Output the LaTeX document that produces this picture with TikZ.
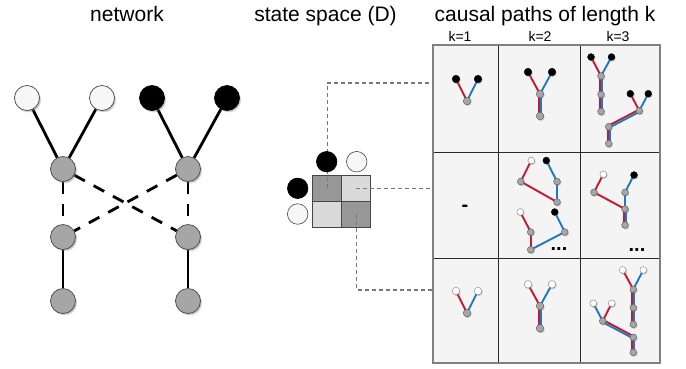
\documentclass[tikz,border=0pt]{standalone}
\usepackage{fontspec}
\setmainfont{Liberation Sans}
\usetikzlibrary{calc,shadows,fadings}
\pgfdeclarelayer{back}
\pgfdeclarelayer{edges}
\pgfsetlayers{back,edges,main}

\definecolor{pathred}{RGB}{200,24,48}
\definecolor{pathblue}{RGB}{32,120,192}
\definecolor{nodegray}{RGB}{166,166,166}
\definecolor{rimgray}{RGB}{70,70,70}
\definecolor{cellbg}{RGB}{244,244,244}
\definecolor{offwhite}{RGB}{247,247,247}
\definecolor{darkcell}{RGB}{152,152,152}
\definecolor{lightcell}{RGB}{218,218,218}
\definecolor{linkgray}{RGB}{120,120,120}

% paired red/blue strands between two nodes
% \dblA: red on the left (vertical) or upper side (going down-left)
% \dblB: red on the upper side (going down-right)
\newcommand{\dblA}[2]{%
  \draw[redline]  ($(#1.center)!1.05pt!-90:(#2.center)$) -- ($(#2.center)!1.05pt!90:(#1.center)$);
  \draw[blueline] ($(#1.center)!1.05pt!90:(#2.center)$) -- ($(#2.center)!1.05pt!-90:(#1.center)$);}
\newcommand{\dblB}[2]{%
  \draw[redline]  ($(#1.center)!1.05pt!90:(#2.center)$) -- ($(#2.center)!1.05pt!-90:(#1.center)$);
  \draw[blueline] ($(#1.center)!1.05pt!-90:(#2.center)$) -- ($(#2.center)!1.05pt!90:(#1.center)$);}
\newcommand{\rl}[2]{\draw[redline] (#1.center) -- (#2.center);}
\newcommand{\bl}[2]{\draw[blueline] (#1.center) -- (#2.center);}

\tikzset{
  net/.style={circle, minimum size=25pt, inner sep=0pt, draw=rimgray, line width=0.7pt,
    circular drop shadow={shadow xshift=1.3pt, shadow yshift=-1.6pt, shadow scale=1.04, opacity=0.45}},
  netwhite/.style={net, fill=offwhite},
  netblack/.style={net, fill=black, draw=black},
  netgray/.style={net, fill=nodegray},
  netedge/.style={line width=2.8pt, black},
  netdash/.style={netedge, dash pattern=on 12pt off 10pt},
  pn/.style={circle, minimum size=7.6pt, inner sep=0pt, line width=0.4pt,
    circular drop shadow={shadow xshift=0.6pt, shadow yshift=-0.8pt, opacity=0.4}},
  pns/.style={pn, minimum size=6.8pt},
  pb/.style={fill=black, draw=black},
  pw/.style={fill=white, draw=gray},
  pg/.style={fill=nodegray, draw=gray!70!black},
  redline/.style={pathred, line width=1.9pt},
  blueline/.style={pathblue, line width=1.9pt},
  title/.style={anchor=base, font=\fontsize{21}{24}\selectfont, inner sep=0pt},
  klabel/.style={anchor=base, font=\fontsize{14}{16}\selectfont, inner sep=0pt},
  statecell/.style={rectangle, minimum width=29pt, minimum height=26.2pt, inner sep=0pt, draw=rimgray, line width=0.8pt},
  statedot/.style={circle, minimum size=20.5pt, inner sep=0pt, line width=0.6pt},
  link/.style={linkgray, line width=1.1pt, dash pattern=on 4pt off 3pt},
}

\begin{document}
\begin{tikzpicture}[x=1pt, y=-1pt]
\useasboundingbox (0,0) rectangle (686,368);

% ---------- headings ----------
\node[title] (hnet) at (127,21.5) {network};
\node[title] (hstate) at (325.5,21.5) {state space (D)};
\node[title] (hpaths) at (545,21.5) {causal paths of length k};
\node[klabel] (k1) at (460,41) {k=1};
\node[klabel] (k2) at (540,41) {k=2};
\node[klabel] (k3) at (618,41) {k=3};

% ---------- network ----------
\node[netwhite] (w1) at (27,98) {};
\node[netwhite] (w2) at (102,98) {};
\node[netblack] (b1) at (152,98) {};
\node[netblack] (b2) at (227,98) {};
\node[netgray] (n1) at (63,169) {};
\node[netgray] (n2) at (188,169) {};
\node[netgray] (n3) at (63,237) {};
\node[netgray] (n4) at (188,237) {};
\node[netgray] (n5) at (63,301) {};
\node[netgray] (n6) at (188,301) {};
\begin{pgfonlayer}{edges}
  \draw[netedge] (w1) -- (n1);
  \draw[netedge] (w2) -- (n1);
  \draw[netedge] (b1) -- (n2);
  \draw[netedge] (b2) -- (n2);
  \draw[netedge] (n3) -- (n5);
  \draw[netedge] (n4) -- (n6);
  \draw[netdash] (n1) -- (n3);
  \draw[netdash] (n2) -- (n4);
  \draw[netdash] (n1) -- (n4);
  \draw[netdash] (n2) -- (n3);
\end{pgfonlayer}

% ---------- state space ----------
\node[statecell, fill=darkcell]  (s11) at (327.2,188.1) {};
\node[statecell, fill=lightcell] (s12) at (356.2,188.1) {};
\node[statecell, fill=lightcell] (s21) at (327.2,214.3) {};
\node[statecell, fill=darkcell]  (s22) at (356.2,214.3) {};

% table of causal paths
\begin{pgfonlayer}{back}
  \fill[cellbg] (433,45) rectangle (660,363);
  \draw[rimgray!60!black, line width=0.9pt] (498,45) -- (498,363) (580,45) -- (580,363)
     (433,152) -- (660,152) (433,258) -- (660,258);
  \draw[gray, line width=1.1pt] (433,45) rectangle (660,363);
\end{pgfonlayer}
\coordinate (t1) at (433,83);
\coordinate (t2) at (433,188.1);
\coordinate (t3) at (433,290);

\draw[link] (s11.center) |- (t1);
\draw[link] (s12.center) -- (t2);
\draw[link] (s22.center) |- (t3);

\node[statedot, fill=black, draw=black] (sb1) at (326.7,161.7) {};
\node[statedot, fill=offwhite, draw=rimgray] (sw1) at (356.7,161.7) {};
\node[statedot, fill=black, draw=black] (sb2) at (297.7,188.3) {};
\node[statedot, fill=offwhite, draw=rimgray] (sw2) at (297.7,214) {};

% ---------- row 1: black / black ----------
\node[pn,pb] (a1) at (456,79) {};
\node[pn,pb] (a2) at (478,79) {};
\node[pn,pg] (a3) at (467,101) {};

\node[pn,pb] (c1) at (528,72) {};
\node[pn,pb] (c2) at (552,72) {};
\node[pn,pg] (c3) at (540,94) {};
\node[pn,pg] (c4) at (540,116) {};

\node[pns,pb] (d1) at (591,57) {};
\node[pns,pb] (d2) at (611.5,57) {};
\node[pns,pg] (d3) at (601,76) {};
\node[pns,pg] (d4) at (601,94.5) {};
\node[pns,pg] (d5) at (601,111.5) {};

\node[pns,pb] (e1) at (630.3,93.7) {};
\node[pns,pb] (e2) at (648.3,93.7) {};
\node[pns,pg] (e3) at (639.3,110.7) {};
\node[pns,pg] (e4) at (608.7,126.7) {};
\node[pns,pg] (e5) at (608.7,143.5) {};

% ---------- row 2: black / white ----------
\node[font=\bfseries\fontsize{20}{20}\selectfont, anchor=base, inner sep=0pt] (none) at (465,211) {-};

\node[pns,pw] (f1) at (531.3,160.5) {};
\node[pns,pb] (f2) at (546.3,160.5) {};
\node[pns,pg] (f3) at (520.7,181.5) {};
\node[pns,pg] (f4) at (557,181.5) {};
\node[pns,pg] (f5) at (557,202) {};

\node[pns,pw] (g1) at (520.3,212) {};
\node[pns,pb] (g2) at (554.7,212) {};
\node[pns,pg] (g3) at (530.7,232) {};
\node[pns,pg] (g4) at (564.7,232) {};
\node[pns,pg] (g5) at (530.7,249.7) {};
\node[font=\bfseries\fontsize{20}{20}\selectfont, anchor=base, inner sep=0pt] (more1) at (559,250) {...};

\node[pns,pw] (h1) at (603.3,174.3) {};
\node[pns,pb] (h2) at (634,175) {};
\node[pns,pg] (h3) at (594,192.3) {};
\node[pns,pg] (h4) at (625,192.3) {};
\node[pns,pg] (h5) at (625,209) {};
\node[pns,pg] (h6) at (625,225) {};
\node[font=\bfseries\fontsize{20}{20}\selectfont, anchor=base, inner sep=0pt] (more2) at (637,251) {...};

% ---------- row 3: white / white ----------
\node[pn,pw] (i1) at (456,291) {};
\node[pn,pw] (i2) at (478,291) {};
\node[pn,pg] (i3) at (467,313) {};

\node[pn,pw] (j1) at (528,284.3) {};
\node[pn,pw] (j2) at (552,284.3) {};
\node[pn,pg] (j3) at (540,306) {};
\node[pn,pg] (j4) at (540,328.3) {};

\node[pns,pw] (m1) at (622.7,270) {};
\node[pns,pw] (m2) at (643.3,270) {};
\node[pns,pg] (m3) at (633.3,289.3) {};
\node[pns,pg] (m4) at (633.3,307.7) {};
\node[pns,pg] (m5) at (633.3,324.3) {};

\node[pns,pw] (q1) at (593.3,303.3) {};
\node[pns,pw] (q2) at (611.7,303.3) {};
\node[pns,pg] (q3) at (602.7,321) {};
\node[pns,pg] (q4) at (633.3,337.3) {};
\node[pns,pg] (q5) at (633.3,352.3) {};

\begin{pgfonlayer}{edges}
  % row 1
  \rl{a1}{a3} \bl{a2}{a3}
  \rl{c1}{c3} \bl{c2}{c3} \dblA{c3}{c4}
  \rl{d1}{d3} \bl{d2}{d3} \dblA{d3}{d4} \dblA{d4}{d5}
  \rl{e1}{e3} \bl{e2}{e3} \dblA{e3}{e4} \dblA{e4}{e5}
  % row 2
  \rl{f1}{f3} \rl{f3}{f5} \bl{f2}{f4} \bl{f4}{f5}
  \rl{g1}{g3} \rl{g3}{g5} \bl{g2}{g4} \bl{g4}{g5}
  \rl{h1}{h3} \rl{h3}{h5} \bl{h2}{h4} \bl{h4}{h5} \dblA{h5}{h6}
  % row 3
  \rl{i1}{i3} \bl{i2}{i3}
  \rl{j1}{j3} \bl{j2}{j3} \dblA{j3}{j4}
  \rl{m1}{m3} \bl{m2}{m3} \dblA{m3}{m4} \dblA{m4}{m5}
  \bl{q1}{q3} \rl{q2}{q3} \dblB{q3}{q4} \dblA{q4}{q5}
\end{pgfonlayer}
\end{tikzpicture}
\end{document}
